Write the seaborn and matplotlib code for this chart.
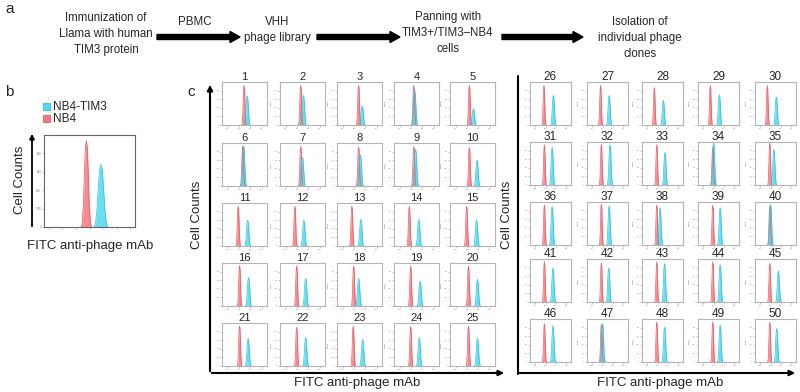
import numpy as np
import pandas as pd
import matplotlib
matplotlib.use("Agg")
import matplotlib.pyplot as plt
from matplotlib.patches import Rectangle
import seaborn as sns

# ---- data ----
# workflow boxes (panel a)
STEP_LABELS = [
    "Immunization of\nLlama with human\nTIM3 protein",
    "VHH\nphage library",
    "Panning with\nTIM3+/TIM3\u2013NB4\ncells",
    "Isolation of\nindividual phage\nclones",
]
ARROW_LABELS = ["PBMC", "", ""]

# normalised FACS peak profile (offset in half-widths -> relative height)
PROFILE_OFFSET = [-1.0, -0.8, -0.6, -0.4, -0.2, 0.0, 0.2, 0.4, 0.6, 0.8, 1.0]
PROFILE_HEIGHT = [0.0, 0.06, 0.25, 0.6, 0.92, 1.0, 0.92, 0.6, 0.25, 0.06, 0.0]

# panel b (fraction of x axis, counts)
B_NB4_POS, B_NB4_HEIGHT = 0.465, 940
B_TIM3_POS, B_TIM3_HEIGHT = 0.625, 680
B_YTICKS = [0, 200, 400, 600, 800]

# panel c, clones 1-50: peak position (fraction of x axis), peak height (fraction of y axis)
CLONES = list(range(1, 51))
RED_POS = [0.49, 0.46, 0.48, 0.44, 0.43, 0.46, 0.46, 0.48, 0.44, 0.43,
           0.36, 0.33, 0.33, 0.34, 0.37, 0.39, 0.37, 0.37, 0.37, 0.41,
           0.39, 0.37, 0.36, 0.37, 0.41,
           0.34, 0.33, 0.30, 0.30, 0.30, 0.35, 0.35, 0.36, 0.36, 0.36,
           0.35, 0.35, 0.36, 0.36, 0.36, 0.35, 0.35, 0.36, 0.36, 0.36,
           0.35, 0.35, 0.36, 0.36, 0.36]
CYAN_POS = [0.56, 0.52, 0.56, 0.46, 0.52, 0.48, 0.50, 0.52, 0.48, 0.60,
            0.57, 0.53, 0.53, 0.55, 0.59, 0.59, 0.57, 0.48, 0.58, 0.61,
            0.58, 0.57, 0.57, 0.56, 0.61,
            0.57, 0.54, 0.52, 0.52, 0.52, 0.54, 0.56, 0.56, 0.38, 0.46,
            0.54, 0.54, 0.44, 0.54, 0.38, 0.56, 0.53, 0.55, 0.54, 0.57,
            0.56, 0.38, 0.55, 0.54, 0.53]
RED_HEIGHT = [0.92, 0.92, 0.92, 0.92, 0.92, 0.93, 0.92, 0.91, 0.92, 0.90,
              0.93, 0.93, 0.93, 0.93, 0.93, 0.94, 0.93, 0.93, 0.93, 0.93,
              0.93, 0.90, 0.93, 0.92, 0.93,
              0.92, 0.92, 0.87, 0.92, 0.92, 0.94, 0.94, 0.94, 0.88, 0.98,
              0.93, 0.95, 0.93, 0.93, 0.90, 0.94, 0.90, 0.93, 0.93, 0.90,
              0.89, 0.87, 0.93, 0.93, 0.93]
CYAN_HEIGHT = [0.68, 0.69, 0.44, 0.80, 0.38, 0.93, 0.67, 0.72, 0.85, 0.60,
               0.60, 0.60, 0.62, 0.62, 0.60, 0.66, 0.64, 0.64, 0.58, 0.62,
               0.64, 0.66, 0.62, 0.66, 0.64,
               0.69, 0.69, 0.57, 0.70, 0.65, 0.88, 0.94, 0.76, 0.98, 0.83,
               0.90, 0.91, 0.87, 0.87, 0.95, 0.79, 0.79, 0.89, 0.87, 0.72,
               0.84, 0.89, 0.81, 0.86, 0.78]

RED_FILL, RED_EDGE = "#f5777f", "#ea5a64"
CYAN_FILL, CYAN_EDGE = "#4fd8ef", "#2cc3de"

W, H = 800, 392

sns.set_theme(style="white")
plt.rcParams["font.family"] = ["Liberation Sans", "DejaVu Sans"]

fig = plt.figure(figsize=(W / 100, H / 100), dpi=100)


def px_axes(x0, y0, w, h, **kw):
    """Axes placed with pixel coords, origin top-left."""
    return fig.add_axes([x0 / W, 1 - (y0 + h) / H, w / W, h / H], **kw)


def peak_frame(pos, height, half_width, name):
    xs = [pos + o * half_width for o in PROFILE_OFFSET]
    ys = [height * p for p in PROFILE_HEIGHT]
    return pd.DataFrame({"x": xs, "y": ys, "sample": name})


def draw_peaks(ax, peaks):
    # peaks: list of (pos, height, half_width, name, fill, edge)
    for pos, height, hw, name, fill, edge in peaks:
        df = peak_frame(pos, height, hw, name)
        ax.fill_between(df["x"], df["y"], color=fill, alpha=0.85, lw=0)
        sns.lineplot(data=df, x="x", y="y", color=edge, lw=0.5,
                     estimator=None, sort=False, ax=ax, legend=False)


def style_small(ax, tick_size=1.6):
    for sp in ax.spines.values():
        sp.set_color("#b5b5b5")
        sp.set_linewidth(0.8)
    ax.tick_params(axis="both", length=1.2, width=0.4, color="#999999",
                   labelsize=tick_size, labelcolor="#777777", pad=0.8,
                   left=True, bottom=True)
    ax.set_xlabel("")
    ax.set_ylabel("")


# overlay for text, arrows and frames
ov = px_axes(0, 0, W, H)
ov.set_xlim(0, W)
ov.set_ylim(H, 0)
ov.axis("off")
ov.patch.set_alpha(0)

# ---- panel a ----
ov.text(5, 9, "a", fontsize=11, va="center", ha="left")
step_x = [106, 277, 448, 640]
step_y = [34, 30, 33, 38]
for x, y, lab in zip(step_x, step_y, STEP_LABELS):
    ov.text(x, y, lab, fontsize=8.3, ha="center", va="center", linespacing=1.45)
arrow_x = [(157, 240), (317, 400), (502, 583)]
for (x0, x1), lab in zip(arrow_x, ARROW_LABELS):
    ov.arrow(x0, 37, x1 - x0 - 10, 0, width=5, head_width=11, head_length=10,
             color="black", length_includes_head=False)
    if lab:
        ov.text(195, 22, lab, fontsize=8.3, ha="center", va="center")

# ---- panel b ----
ov.text(5, 92, "b", fontsize=11, va="center", ha="left")
ov.add_patch(Rectangle((43, 103), 7, 7, facecolor=CYAN_FILL, edgecolor=CYAN_EDGE, lw=0.6))
ov.text(53, 107, "NB4-TIM3", fontsize=8.5, va="center", ha="left")
ov.add_patch(Rectangle((43, 115), 7, 7, facecolor=RED_FILL, edgecolor=RED_EDGE, lw=0.6))
ov.text(53, 119, "NB4", fontsize=8.5, va="center", ha="left")
ov.annotate("", xy=(32, 131), xytext=(32, 229),
            arrowprops=dict(arrowstyle="-|>", lw=1.3, color="black", mutation_scale=7))
ov.text(20, 180, "Cell Counts", fontsize=9.5, rotation=90, ha="center", va="center")
ov.text(90, 246, "FITC anti-phage mAb", fontsize=9.5, ha="center", va="center")

axb = px_axes(44, 135, 91, 92)
draw_peaks(axb, [(B_NB4_POS, B_NB4_HEIGHT, 0.055, "NB4", RED_FILL, RED_EDGE),
                 (B_TIM3_POS, B_TIM3_HEIGHT, 0.075, "NB4-TIM3", CYAN_FILL, CYAN_EDGE)])
axb.set_xlim(0, 1)
axb.set_ylim(0, 1000)
axb.set_yticks(B_YTICKS)
axb.set_yticklabels([str(v) for v in B_YTICKS])
axb.set_xticks([0.05, 0.2, 0.35, 0.5, 0.65, 0.8, 0.95])
axb.set_xticklabels([])
style_small(axb, tick_size=2)
for sp in axb.spines.values():
    sp.set_color("#666666")

# ---- panel c ----
ov.text(187, 92, "c", fontsize=11, va="center", ha="left")
# left group frame
ov.annotate("", xy=(210, 82), xytext=(210, 374),
            arrowprops=dict(arrowstyle="-|>", lw=1.5, color="black", mutation_scale=8))
ov.annotate("", xy=(507, 373), xytext=(209, 373),
            arrowprops=dict(arrowstyle="-|>", lw=1.5, color="black", mutation_scale=8))
ov.text(197, 215, "Cell Counts", fontsize=9.5, rotation=90, ha="center", va="center")
ov.text(357, 383, "FITC anti-phage mAb", fontsize=9.5, ha="center", va="center")
# right group frame
ov.plot([518, 518], [76, 374], color="black", lw=1.5)
ov.annotate("", xy=(798, 373), xytext=(517, 373),
            arrowprops=dict(arrowstyle="-|>", lw=1.5, color="black", mutation_scale=8))
ov.text(507, 215, "Cell Counts", fontsize=9.5, rotation=90, ha="center", va="center")
ov.text(660, 383, "FITC anti-phage mAb", fontsize=9.5, ha="center", va="center")

LEFT_COLS, LEFT_ROWS, LEFT_W = [222, 280, 337, 394, 450], [82, 143, 203, 263, 323], 45
RIGHT_COLS, RIGHT_ROWS, RIGHT_W = [530, 587, 642, 698, 755], [82, 142, 202, 259, 319], 41
PANEL_H = 43

for i, clone in enumerate(CLONES):
    if clone <= 25:
        cols, rows, w = LEFT_COLS, LEFT_ROWS, LEFT_W
        k = i
    else:
        cols, rows, w = RIGHT_COLS, RIGHT_ROWS, RIGHT_W
        k = i - 25
    x0, y0 = cols[k % 5], rows[k // 5]
    ax = px_axes(x0, y0, w, PANEL_H)
    draw_peaks(ax, [(RED_POS[i], RED_HEIGHT[i], 0.05, "NB4", RED_FILL, RED_EDGE),
                    (CYAN_POS[i], CYAN_HEIGHT[i], 0.065, "NB4-TIM3", CYAN_FILL, CYAN_EDGE)])
    ax.set_xlim(0, 1)
    ax.set_ylim(0, 1)
    ax.set_xticks([0.13, 0.38, 0.63, 0.88])
    ax.set_xticklabels(["10\u00b3", "10\u2074", "10\u2075", "10\u2076"])
    ax.set_yticks([0.0, 0.2, 0.4, 0.6, 0.8])
    ax.set_yticklabels(["0", "20", "40", "60", "80"])
    style_small(ax)
    if k % 5 != 0:
        ax.set_ylabel("Count", fontsize=1.6, color="#777777", labelpad=2)
    ax.set_title(str(clone), fontsize=8.5 if clone > 25 else 8, pad=1.5)

fig.savefig("out.png", dpi=100)
